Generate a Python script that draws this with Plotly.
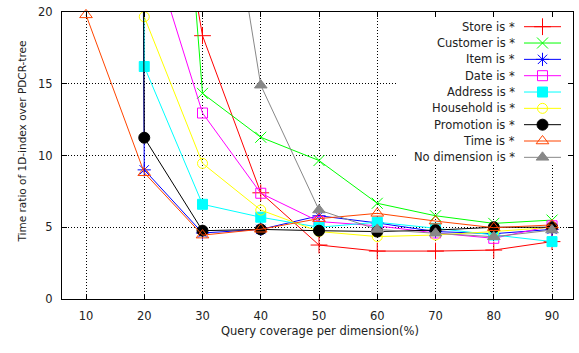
import plotly.graph_objects as go

# ---------------- data ----------------
coverage = [10, 20, 30, 40, 50, 60, 70, 80, 90]
store      = [120, 42, 18.35, 7.4, 3.76, 3.34, 3.34, 3.41, 4.0]
customer   = [200, 66, 14.33, 11.27, 9.65, 6.67, 5.8, 5.27, 5.5]
item       = [800, 9.0, 4.6, 4.85, 5.8, 5.3, 4.7, 4.55, 4.85]
date       = [150, 26, 12.96, 7.37, 5.4, 5.1, 4.6, 4.23, 5.1]
address    = [800, 16.2, 6.6, 5.7, 5.0, 5.35, 4.93, 4.46, 4.0]
household  = [800, 19.67, 9.45, 6.2, 4.7, 4.35, 4.46, 4.7, 5.0]
promotion  = [800, 11.24, 4.76, 4.85, 4.76, 4.7, 4.8, 5.0, 5.0]
time_      = [19.8, 8.8, 4.45, 4.86, 5.6, 5.97, 5.43, 4.97, 5.16]
nodim      = [300, 90, 40, 14.9, 6.2, 4.85, 4.58, 4.34, 4.8]

names = ["Store is *", "Customer is *", "Item is *", "Date is *", "Address is *",
         "Household is *", "Promotion is *", "Time is *", "No dimension is *"]
values = [store, customer, item, date, address, household, promotion, time_, nodim]
x_ticks = [10, 20, 30, 40, 50, 60, 70, 80, 90]
y_ticks = [0, 5, 10, 15, 20]

# ---------------- styles ----------------
colors = ["#ff0000", "#00ff00", "#0000ff", "#ff00ff", "#00ffff",
          "#ffff00", "#000000", "#ff4500", "#888888"]
symbols = ["cross-thin-open", "x-thin-open", "asterisk-open", "square-open", "square",
           "circle-open", "circle", "triangle-up-open", "triangle-up"]
sizes = [12, 11, 11, 10, 10, 10, 11, 11, 11]
FONT = "DejaVu Sans"
TXT = "#222222"

fig = go.Figure()
for i, (nm, vals) in enumerate(zip(names, values)):
    fig.add_trace(go.Scatter(
        x=coverage, y=vals, mode="lines+markers", name=nm,
        line=dict(color=colors[i], width=1),
        marker=dict(symbol=symbols[i], size=sizes[i], color=colors[i],
                    line=dict(color=colors[i], width=1)),
        showlegend=False, hoverinfo="skip",
        cliponaxis=(nm != "Time is *"),
    ))

# ---------------- custom gnuplot-like key (overlay pixel axes) ----------------
PW, PH = 511, 287
row0, drow = 14.7, 16.33
kx0, kx1, kxm, ktext = 462, 499, 480.5, 455
box_x0, box_y1, tick_gap = 335, 153, 5.5

# opaque key background (hides the grid behind the key, like gnuplot)
fig.add_trace(go.Scatter(
    x=[box_x0, PW - tick_gap, PW - tick_gap, box_x0, box_x0],
    y=[tick_gap, tick_gap, box_y1, box_y1, tick_gap],
    mode="lines", fill="toself", fillcolor="white", line=dict(width=0),
    xaxis="x2", yaxis="y2", showlegend=False, hoverinfo="skip"))

for i, nm in enumerate(names):
    ry = row0 + i * drow
    fig.add_trace(go.Scatter(
        x=[kx0, kx1], y=[ry, ry], mode="lines", xaxis="x2", yaxis="y2",
        line=dict(color=colors[i], width=1), showlegend=False, hoverinfo="skip"))
    fig.add_trace(go.Scatter(
        x=[kxm], y=[ry], mode="markers", xaxis="x2", yaxis="y2",
        marker=dict(symbol=symbols[i], size=sizes[i], color=colors[i],
                    line=dict(color=colors[i], width=1)),
        showlegend=False, hoverinfo="skip", cliponaxis=False))
    fig.add_annotation(x=ktext, y=ry, xref="x2", yref="y2", text=nm,
                       showarrow=False, xanchor="right", yanchor="middle",
                       font=dict(family=FONT, size=11.5, color=TXT))

axis_common = dict(showline=True, linecolor="black", linewidth=1, mirror="allticks",
                   ticks="inside", ticklen=5, tickcolor="black", tickwidth=1,
                   showgrid=True, gridcolor="black", gridwidth=1, griddash="1px,2px",
                   zeroline=False, tickfont=dict(family=FONT, size=11.5, color=TXT))

fig.update_layout(
    width=579, height=353,
    margin=dict(l=62, r=6, t=12, b=54),
    paper_bgcolor="white", plot_bgcolor="white",
    xaxis=dict(range=[5.88, 93.6], tickvals=x_ticks, ticklabelstandoff=6, **axis_common),
    yaxis=dict(range=[0, 20], tickvals=y_ticks, ticklabelstandoff=6, **axis_common),
    xaxis2=dict(overlaying="x", anchor="y2", range=[0, PW], visible=False, fixedrange=True),
    yaxis2=dict(overlaying="y", anchor="x2", range=[PH, 0], visible=False, fixedrange=True),
    showlegend=False,
)

fig.add_annotation(x=(319.5 - 62) / PW, y=(299 - 331) / PH, xref="paper", yref="paper",
                   text="Query coverage per dimension(%)", showarrow=False,
                   xanchor="center", yanchor="middle",
                   font=dict(family=FONT, size=11.5, color=TXT))
fig.add_annotation(x=(21 - 62) / PW, y=(299 - 141.5) / PH, xref="paper", yref="paper",
                   text="Time ratio of 1D-index over PDCR-tree", showarrow=False,
                   textangle=-90, xanchor="center", yanchor="middle",
                   font=dict(family=FONT, size=10.5, color=TXT))

fig.write_html("out.html")
